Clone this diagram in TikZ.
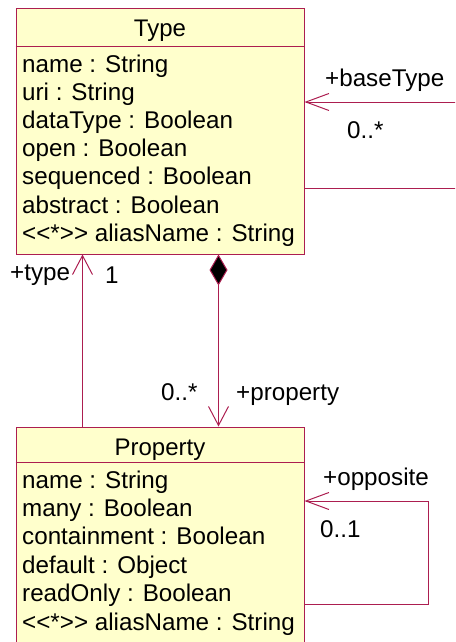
\documentclass[tikz,border=0pt]{standalone}
\usepackage{fontspec}
\setmainfont{Liberation Sans}[Ligatures=TeXOff]
\usetikzlibrary{arrows.meta,calc}
\definecolor{umlline}{RGB}{172,30,80}
\definecolor{umlfill}{RGB}{255,255,204}
\tikzset{
  classbox/.style={draw=umlline, fill=umlfill, line width=1pt, minimum width=288pt, inner sep=0pt},
  sep/.style={draw=umlline, line width=1pt},
  attr/.style={anchor=base west, inner sep=0pt, font=\fontsize{24.2}{28}\selectfont},
  title/.style={anchor=base, inner sep=0pt, font=\fontsize{24}{28}\selectfont},
  role/.style={anchor=base west, inner sep=0pt, font=\fontsize{24.2}{28}\selectfont},
  link/.style={draw=umlline, line width=1pt},
  hnav/.style={link, -{Straight Barb[length=23pt, width=17pt, line width=1pt]}},
  vnav/.style={link, -{Straight Barb[length=19pt, width=20pt, line width=1pt]}},
  compose/.style={link, {Diamond[length=31pt, width=18pt, fill=black, line width=1pt]}-{Straight Barb[length=19pt, width=20pt, line width=1pt]}},
}
\begin{document}
\begin{tikzpicture}[x=1pt, y=-1pt]
\useasboundingbox (0,0) rectangle (455,642);
\clip (0,0) rectangle (455,642);

% classes
\node[classbox, minimum height=245pt] (type) at (160,131.5) {};
\node[classbox, minimum height=233pt] (prop) at (160,543.5) {};
\draw[sep] ($(type.north west)+(0,38)$) -- ($(type.north east)+(0,38)$);
\draw[sep] ($(prop.north west)+(0,36)$) -- ($(prop.north east)+(0,36)$);

% Type
\node[title] (typename) at (160,37) {Type};
\node[attr] (ta1) at (22,72) {name : String};
\node[attr] (ta2) at (22,100.2) {uri : String};
\node[attr] (ta3) at (22,128.4) {dataType : Boolean};
\node[attr] (ta4) at (22,156.6) {open : Boolean};
\node[attr] (ta5) at (22,184.8) {sequenced : Boolean};
\node[attr] (ta6) at (22,213) {abstract : Boolean};
\node[attr] (ta7) at (22,241.2) {<<*>> aliasName : String};

% Property
\node[title] (propname) at (160,455) {Property};
\node[attr] (pa1) at (22,488) {name : String};
\node[attr] (pa2) at (22,516.4) {many : Boolean};
\node[attr] (pa3) at (22,544.8) {containment : Boolean};
\node[attr] (pa4) at (22,573.2) {default : Object};
\node[attr] (pa5) at (22,601.6) {readOnly : Boolean};
\node[attr] (pa6) at (22,630) {<<*>> aliasName : String};

% baseType association (continues past the right edge)
\coordinate (btin) at (470,102);
\coordinate (btout) at (470,188);
\draw[hnav] (btin) -- (btin -| type.east);
\draw[link] (btout -| type.east) -- (btout);
\node[role] (btrole) at (325,86) {+baseType};
\node[role] (btmult) at (347,138) {0..*};

% Property -> Type
\draw[vnav] ($(prop.north west)+(67,0)$) -- ($(type.south west)+(67,0)$);
\node[role] (trole) at (10,280) {+type};
\node[role] (tmult) at (105,283) {1};

% Type <>-> Property
\draw[compose] ($(type.south west)+(203,0)$) -- ($(prop.north west)+(203,0)$);
\node[role] (pmult) at (161,400) {0..*};
\node[role] (prole) at (236,400) {+property};

% opposite self association
\coordinate (oppa) at (428,501);
\coordinate (oppb) at (428,604);
\draw[link] (oppb -| prop.east) -- (oppb) -- (oppa);
\draw[hnav] (oppa) -- (oppa -| prop.east);
\node[role] (orole) at (323,485) {+opposite};
\node[role] (omult) at (320,537) {0..1};
\end{tikzpicture}
\end{document}
